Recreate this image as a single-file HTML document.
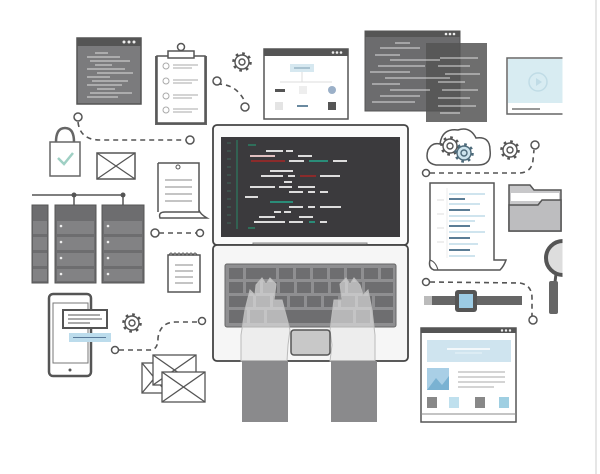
<!DOCTYPE html>
<html><head><meta charset="utf-8"><style>html,body{margin:0;padding:0;background:#fff}svg{display:block}</style></head><body>
<svg width="600" height="474" viewBox="0 0 600 474" xmlns="http://www.w3.org/2000/svg">
<defs>
<g id="gear"><circle r="7" fill="#fff" stroke="#555" stroke-width="1.4"/><circle r="8.3" fill="none" stroke="#555" stroke-width="3" stroke-dasharray="2.6 3.9"/><circle r="3" fill="none" stroke="#555" stroke-width="1.4"/></g>
</defs>
<rect width="600" height="474" fill="#fff"/>
<g fill="none" stroke="#555" stroke-width="1.6" stroke-dasharray="5 4">
<path d="M217 84 Q232 84 240 94 Q245 100 245 104"/>
<path d="M78 122 Q80 140 100 140 L186 140"/>
<path d="M159 233 L196 233"/>
<path d="M119 350 L150 350 Q158 350 158 338 Q160 322 176 322 L198 322"/>
<path d="M430 173 L520 173 Q532 172 533 160 L534 150"/>
<path d="M430 282 L520 283 Q532 285 532 298 L532 316"/>
</g>
<g fill="#fff" stroke="#555" stroke-width="1.5">
<circle cx="217" cy="81" r="4"/><circle cx="245" cy="107" r="4"/>
<circle cx="78" cy="117" r="4"/><circle cx="190" cy="140" r="4"/>
<circle cx="155" cy="233" r="4"/><circle cx="200" cy="233" r="3.5"/>
<circle cx="115" cy="350" r="3.5"/><circle cx="202" cy="321" r="3.5"/>
<circle cx="426" cy="173" r="3.5"/><circle cx="535" cy="145" r="4"/>
<circle cx="426" cy="282" r="3.5"/><circle cx="533" cy="320" r="4"/>
</g>
<rect x="77" y="38" width="64" height="66" fill="#7b7b7d" stroke="#555" stroke-width="1.5"/>
<rect x="77" y="38" width="64" height="8" fill="#555"/>
<g fill="#eee"><circle cx="124" cy="42" r="1.5"/><circle cx="129" cy="42" r="1.5"/><circle cx="134" cy="42" r="1.5"/></g>
<g stroke="#ddd" stroke-width="1"><line x1="95" y1="53" x2="108" y2="53"/><line x1="87" y1="57" x2="120" y2="57"/><line x1="90" y1="61" x2="130" y2="61"/><line x1="95" y1="65" x2="112" y2="65"/><line x1="87" y1="69" x2="125" y2="69"/><line x1="97" y1="73" x2="133" y2="73"/><line x1="87" y1="77" x2="110" y2="77"/><line x1="92" y1="81" x2="128" y2="81"/><line x1="87" y1="85" x2="122" y2="85"/><line x1="97" y1="89" x2="115" y2="89"/><line x1="90" y1="93" x2="132" y2="93"/><line x1="87" y1="97" x2="118" y2="97"/></g>
<rect x="155" y="56" width="52" height="69" fill="#666"/>
<rect x="157" y="56" width="48" height="67" fill="#fff" stroke="#555" stroke-width="1.5"/>
<rect x="168" y="51" width="26" height="7" fill="#fff" stroke="#555" stroke-width="1.5"/>
<circle cx="181" cy="47" r="3.5" fill="#fff" stroke="#555" stroke-width="1.5"/>
<g fill="none" stroke="#aaa" stroke-width="1"><circle cx="166" cy="66" r="3"/><circle cx="166" cy="81" r="3"/><circle cx="166" cy="96" r="3"/><circle cx="166" cy="110" r="3"/></g>
<g stroke="#bbb" stroke-width="1.2"><line x1="173" y1="65" x2="198" y2="65"/><line x1="173" y1="68" x2="192" y2="68"/><line x1="173" y1="80" x2="198" y2="80"/><line x1="173" y1="83" x2="192" y2="83"/><line x1="173" y1="95" x2="198" y2="95"/><line x1="173" y1="98" x2="192" y2="98"/><line x1="173" y1="109" x2="198" y2="109"/><line x1="173" y1="112" x2="192" y2="112"/></g>
<use href="#gear" x="242" y="62"/>
<rect x="264" y="49" width="84" height="70" fill="#fff" stroke="#555" stroke-width="1.5"/>
<rect x="264" y="49" width="84" height="7" fill="#555"/>
<g fill="#eee"><circle cx="333" cy="52.5" r="1.3"/><circle cx="337" cy="52.5" r="1.3"/><circle cx="341" cy="52.5" r="1.3"/></g>
<rect x="290" y="64" width="24" height="8" fill="#d6e8f0"/><line x1="294" y1="68" x2="310" y2="68" stroke="#7a9cb0"/>
<path d="M302 72 V82 M280 82 H332" stroke="#ddd" fill="none"/>
<rect x="275" y="89" width="10" height="3" fill="#555"/><rect x="299" y="86" width="8" height="8" fill="#eee"/><circle cx="332" cy="90" r="4" fill="#9bb0c8"/>
<rect x="275" y="102" width="8" height="8" fill="#e4e4e4"/><rect x="297" y="105" width="11" height="2" fill="#6a8aa0"/><rect x="328" y="102" width="8" height="8" fill="#555"/>
<rect x="365" y="31" width="95" height="80" fill="#6c6c6e" stroke="#555"/>
<rect x="365" y="31" width="95" height="6" fill="#555"/>
<g fill="#eee"><circle cx="446" cy="34" r="1.3"/><circle cx="450" cy="34" r="1.3"/><circle cx="454" cy="34" r="1.3"/></g>
<rect x="426" y="43" width="61" height="79" fill="#555" fill-opacity="0.85"/>
<g stroke="#ddd" stroke-width="1"><line x1="395" y1="43" x2="410" y2="43"/><line x1="380" y1="48" x2="420" y2="48"/><line x1="375" y1="55" x2="400" y2="55"/><line x1="390" y1="60" x2="440" y2="60"/><line x1="378" y1="66" x2="425" y2="66"/><line x1="370" y1="72" x2="410" y2="72"/><line x1="385" y1="78" x2="450" y2="78"/><line x1="372" y1="84" x2="400" y2="84"/><line x1="390" y1="90" x2="430" y2="90"/><line x1="380" y1="96" x2="420" y2="96"/><line x1="372" y1="102" x2="415" y2="102"/><line x1="440" y1="58" x2="478" y2="58"/><line x1="438" y1="66" x2="470" y2="66"/><line x1="445" y1="74" x2="480" y2="74"/><line x1="438" y1="82" x2="465" y2="82"/><line x1="442" y1="90" x2="478" y2="90"/><line x1="438" y1="98" x2="470" y2="98"/><line x1="438" y1="106" x2="476" y2="106"/><line x1="440" y1="113" x2="460" y2="113"/></g>
<rect x="507" y="58" width="60" height="56" fill="#fff" stroke="#666" stroke-width="1.5"/>
<rect x="508" y="59" width="59" height="44" fill="#d8ecf2"/>
<circle cx="538" cy="82" r="9" fill="none" stroke="#c0dce6" stroke-width="1.5"/>
<path d="M536 78 L542 82 L536 86 Z" fill="#c0dce6"/>
<line x1="512" y1="109" x2="540" y2="109" stroke="#777" stroke-width="1.5"/>
<rect x="213" y="125" width="195" height="120" rx="4" fill="#fafafa" stroke="#444" stroke-width="1.8"/>
<rect x="221" y="137" width="179" height="100" fill="#3b3a3d"/>
<line x1="237" y1="140" x2="237" y2="229" stroke="#2f6e5a" stroke-width="1.5"/>
<g stroke="#3f5e55" stroke-width="1.2"><line x1="227" y1="143" x2="231" y2="143"/><line x1="227" y1="151" x2="231" y2="151"/><line x1="227" y1="159" x2="231" y2="159"/><line x1="227" y1="167" x2="231" y2="167"/><line x1="227" y1="175" x2="231" y2="175"/><line x1="227" y1="183" x2="231" y2="183"/><line x1="227" y1="191" x2="231" y2="191"/><line x1="227" y1="199" x2="231" y2="199"/><line x1="227" y1="207" x2="231" y2="207"/><line x1="227" y1="215" x2="231" y2="215"/><line x1="227" y1="223" x2="231" y2="223"/></g>
<g stroke-width="2">
<line x1="248" y1="145" x2="256" y2="145" stroke="#2f6e5a"/>
<line x1="266" y1="151" x2="283" y2="151" stroke="#ddd"/><line x1="286" y1="151" x2="293" y2="151" stroke="#ddd"/>
<line x1="250" y1="156" x2="275" y2="156" stroke="#e0c0c0"/><line x1="298" y1="156" x2="312" y2="156" stroke="#ddd"/>
<line x1="251" y1="161" x2="285" y2="161" stroke="#8b2b2b"/><line x1="289" y1="161" x2="304" y2="161" stroke="#ddd"/><line x1="309" y1="161" x2="328" y2="161" stroke="#2a8c78"/><line x1="333" y1="161" x2="347" y2="161" stroke="#ddd"/>
<line x1="270" y1="171" x2="293" y2="171" stroke="#ddd"/>
<line x1="261" y1="176" x2="283" y2="176" stroke="#ddd"/><line x1="288" y1="176" x2="295" y2="176" stroke="#ddd"/><line x1="300" y1="176" x2="316" y2="176" stroke="#8b2b2b"/><line x1="320" y1="176" x2="340" y2="176" stroke="#ddd"/>
<line x1="284" y1="182" x2="292" y2="182" stroke="#ddd"/>
<line x1="250" y1="187" x2="275" y2="187" stroke="#ddd"/><line x1="279" y1="187" x2="292" y2="187" stroke="#ddd"/><line x1="298" y1="187" x2="315" y2="187" stroke="#ddd"/>
<line x1="289" y1="192" x2="303" y2="192" stroke="#ddd"/><line x1="308" y1="192" x2="315" y2="192" stroke="#ddd"/><line x1="320" y1="192" x2="328" y2="192" stroke="#ddd"/>
<line x1="245" y1="197" x2="258" y2="197" stroke="#ddd"/>
<line x1="270" y1="202" x2="293" y2="202" stroke="#2a8c78"/>
<line x1="289" y1="207" x2="303" y2="207" stroke="#ddd"/><line x1="308" y1="207" x2="315" y2="207" stroke="#ddd"/><line x1="320" y1="207" x2="341" y2="207" stroke="#ddd"/>
<line x1="274" y1="212" x2="281" y2="212" stroke="#ddd"/><line x1="284" y1="212" x2="291" y2="212" stroke="#ddd"/>
<line x1="259" y1="217" x2="275" y2="217" stroke="#ddd"/><line x1="299" y1="217" x2="313" y2="217" stroke="#ddd"/>
<line x1="254" y1="222" x2="285" y2="222" stroke="#ddd"/><line x1="289" y1="222" x2="303" y2="222" stroke="#ddd"/><line x1="309" y1="222" x2="315" y2="222" stroke="#2a8c78"/><line x1="320" y1="222" x2="327" y2="222" stroke="#ddd"/>
<line x1="248" y1="228" x2="255" y2="228" stroke="#2f6e5a"/>
</g>
<rect x="253" y="243" width="114" height="6" fill="#ccc" stroke="#888"/>
<rect x="213" y="245" width="195" height="116" rx="4" fill="#f6f6f6" stroke="#444" stroke-width="1.8"/>
<rect x="225" y="264" width="171" height="63" rx="2" fill="#8f8f91" stroke="#666"/>
<g fill="#6e6e70">
<rect x="229" y="268" width="14" height="11"/><rect x="246" y="268" width="30" height="11"/><rect x="279" y="268" width="14" height="11"/><rect x="296" y="268" width="14" height="11"/><rect x="313" y="268" width="14" height="11"/><rect x="330" y="268" width="14" height="11"/><rect x="347" y="268" width="14" height="11"/><rect x="364" y="268" width="14" height="11"/><rect x="381" y="268" width="12" height="11"/>
<rect x="229" y="282" width="14" height="11"/><rect x="246" y="282" width="14" height="11"/><rect x="263" y="282" width="14" height="11"/><rect x="280" y="282" width="14" height="11"/><rect x="297" y="282" width="14" height="11"/><rect x="314" y="282" width="14" height="11"/><rect x="331" y="282" width="14" height="11"/><rect x="348" y="282" width="14" height="11"/><rect x="365" y="282" width="28" height="11"/>
<rect x="229" y="296" width="24" height="11"/><rect x="256" y="296" width="14" height="11"/><rect x="273" y="296" width="14" height="11"/><rect x="290" y="296" width="14" height="11"/><rect x="307" y="296" width="14" height="11"/><rect x="324" y="296" width="14" height="11"/><rect x="341" y="296" width="14" height="11"/><rect x="358" y="296" width="14" height="11"/><rect x="375" y="296" width="18" height="11"/>
<rect x="229" y="310" width="18" height="13"/><rect x="250" y="310" width="14" height="13"/><rect x="267" y="310" width="86" height="13"/><rect x="356" y="310" width="14" height="13"/><rect x="373" y="310" width="20" height="13"/>
</g>
<g fill="#e8e8e8" fill-opacity="0.6" stroke="#bbb" stroke-width="1">
<path d="M241 361 L241 335 L245 310 L250 290 L255 295 L256 285 L262 278 L266 284 L270 278 L276 284 L274 300 L282 300 L290 330 L288 345 L287 361 Z"/>
<path d="M375 361 L375 335 L372 310 L368 290 L363 295 L360 285 L354 278 L350 284 L346 278 L340 284 L342 300 L334 300 L330 330 L332 345 L330 361 Z"/>
</g>
<rect x="291" y="330" width="39" height="25" rx="3" fill="#c8c8c8" stroke="#555" stroke-width="1.5"/>
<rect x="242" y="361" width="46" height="61" fill="#8a8a8c"/>
<rect x="331" y="361" width="46" height="61" fill="#8a8a8c"/>
<path d="M56 142 Q56 128 65 128 Q74 128 74 142" fill="none" stroke="#666" stroke-width="2.5"/>
<rect x="50" y="142" width="30" height="34" fill="#fff" stroke="#666" stroke-width="1.5"/>
<path d="M58 158 L64 164 L73 153" fill="none" stroke="#9fd0c4" stroke-width="2.5"/>
<rect x="97" y="153" width="38" height="26" fill="#fff" stroke="#555" stroke-width="1.5"/>
<path d="M97 153 L135 179 M135 153 L97 179" stroke="#555" stroke-width="1.2"/>
<path d="M158 163 H199 V212 H165 Q158 212 160 218 H207 Q200 214 199 210" fill="#fff" stroke="#555" stroke-width="1.5"/>
<path d="M158 163 V212" stroke="#555" stroke-width="1.5"/>
<circle cx="178" cy="167" r="2" fill="#fff" stroke="#555"/>
<g stroke="#888"><line x1="165" y1="180" x2="192" y2="180"/><line x1="165" y1="187" x2="192" y2="187"/><line x1="165" y1="194" x2="192" y2="194"/><line x1="165" y1="201" x2="192" y2="201"/></g>
<line x1="32" y1="195" x2="123" y2="195" stroke="#555" stroke-width="1.5"/>
<circle cx="74" cy="195" r="2.5" fill="#555"/><circle cx="123" cy="195" r="2.5" fill="#555"/>
<line x1="74" y1="195" x2="74" y2="205" stroke="#555" stroke-width="1.5"/><line x1="123" y1="195" x2="123" y2="205" stroke="#555" stroke-width="1.5"/>
<g fill="#6d6d6f" stroke="#555"><rect x="32" y="205" width="16" height="78"/><rect x="55" y="205" width="41" height="78"/><rect x="102" y="205" width="42" height="78"/></g>
<g fill="#828284"><rect x="57" y="221" width="37" height="13"/><rect x="57" y="237" width="37" height="13"/><rect x="57" y="253" width="37" height="13"/><rect x="57" y="269" width="37" height="12"/><rect x="104" y="221" width="38" height="13"/><rect x="104" y="237" width="38" height="13"/><rect x="104" y="253" width="38" height="13"/><rect x="104" y="269" width="38" height="12"/><rect x="33" y="221" width="14" height="13"/><rect x="33" y="237" width="14" height="13"/><rect x="33" y="253" width="14" height="13"/><rect x="33" y="269" width="14" height="12"/></g>
<g fill="#eee"><circle cx="61" cy="226" r="1.3"/><circle cx="61" cy="242" r="1.3"/><circle cx="61" cy="258" r="1.3"/><circle cx="61" cy="274" r="1.3"/><circle cx="108" cy="226" r="1.3"/><circle cx="108" cy="242" r="1.3"/><circle cx="108" cy="258" r="1.3"/><circle cx="108" cy="274" r="1.3"/></g>
<rect x="168" y="255" width="32" height="37" fill="#fff" stroke="#555" stroke-width="1.5"/>
<path d="M169 255 q2 -4 4 0 q2 -4 4 0 q2 -4 4 0 q2 -4 4 0 q2 -4 4 0 q2 -4 4 0 q2 -4 4 0" fill="none" stroke="#555"/>
<g stroke="#888"><line x1="175" y1="265" x2="193" y2="265"/><line x1="175" y1="271" x2="193" y2="271"/><line x1="175" y1="277" x2="193" y2="277"/><line x1="175" y1="283" x2="193" y2="283"/></g>
<rect x="49" y="294" width="42" height="82" rx="4" fill="#fff" stroke="#555" stroke-width="2.5"/>
<rect x="53" y="303" width="35" height="60" fill="#fff" stroke="#777"/>
<circle cx="70" cy="370" r="1.5" fill="#555"/>
<rect x="63" y="310" width="44" height="18" fill="#fff" stroke="#555" stroke-width="2"/>
<g stroke="#555"><line x1="68" y1="315" x2="100" y2="315"/><line x1="68" y1="319" x2="102" y2="319"/><line x1="68" y1="323" x2="90" y2="323"/></g>
<rect x="69" y="333" width="42" height="9" fill="#bcdcec"/><line x1="73" y1="337.5" x2="106" y2="337.5" stroke="#5a7a9a"/>
<use href="#gear" x="132" y="323"/>
<g fill="#fff" stroke="#555" stroke-width="1.3">
<rect x="142" y="363" width="25" height="30"/><path d="M142 363 L167 393 M167 363 L142 393"/>
<rect x="153" y="355" width="43" height="30"/><path d="M153 355 L196 385 M196 355 L153 385"/>
<rect x="162" y="372" width="43" height="30"/><path d="M162 372 L205 402 M205 372 L162 402"/>
</g>
<path d="M436 165 Q424 163 428 150 Q432 142 440 144 Q442 128 458 130 Q470 126 476 138 Q490 136 490 150 Q492 165 478 165 Z" fill="#fff" stroke="#555" stroke-width="1.5"/>
<use href="#gear" x="450" y="146"/>
<g transform="translate(464 153)"><circle r="7" fill="#cde4ee" stroke="#4d6a7a" stroke-width="1.4"/><circle r="8.3" fill="none" stroke="#4d6a7a" stroke-width="3" stroke-dasharray="2.6 3.9"/><circle r="3" fill="none" stroke="#4d6a7a" stroke-width="1.4"/></g>
<use href="#gear" x="510" y="150"/>
<path d="M430 183 H494 V260 H506 Q504 266 500 270 H434 Q428 268 430 260 Z" fill="#fff" stroke="#555" stroke-width="1.5"/>
<path d="M430 260 Q436 262 438 270" fill="none" stroke="#555"/>
<g stroke-width="2"><line x1="449" y1="194" x2="485" y2="194" stroke="#cfe4ee"/><line x1="449" y1="199" x2="465" y2="199" stroke="#5b7d96"/><line x1="449" y1="204" x2="480" y2="204" stroke="#cfe4ee"/><line x1="449" y1="210" x2="470" y2="210" stroke="#5b7d96"/><line x1="449" y1="216" x2="485" y2="216" stroke="#cfe4ee"/><line x1="449" y1="221" x2="475" y2="221" stroke="#cfe4ee"/><line x1="449" y1="226" x2="470" y2="226" stroke="#5b7d96"/><line x1="449" y1="232" x2="485" y2="232" stroke="#cfe4ee"/><line x1="449" y1="238" x2="470" y2="238" stroke="#5b7d96"/><line x1="449" y1="244" x2="478" y2="244" stroke="#cfe4ee"/><line x1="449" y1="250" x2="470" y2="250" stroke="#5b7d96"/><line x1="449" y1="256" x2="475" y2="256" stroke="#cfe4ee"/></g>
<g stroke="#ddd"><line x1="437" y1="200" x2="444" y2="200"/><line x1="437" y1="214" x2="444" y2="214"/><line x1="437" y1="228" x2="444" y2="228"/><line x1="437" y1="242" x2="444" y2="242"/></g>
<line x1="447" y1="188" x2="447" y2="258" stroke="#eee"/>
<path d="M509 185 H530 L534 190 H561 V231 H509 Z" fill="#c8c8ca" stroke="#555" stroke-width="1.5"/>
<rect x="511" y="193" width="48" height="8" fill="#fff"/>
<path d="M509 205 H538 L542 200 H561 V231 H509 Z" fill="#bdbdbf" stroke="#555" stroke-width="1.5"/>
<circle cx="563" cy="258" r="17" fill="#ddd" stroke="#555" stroke-width="4"/>
<line x1="556" y1="274" x2="555" y2="282" stroke="#555" stroke-width="3"/>
<rect x="549" y="281" width="9" height="33" rx="2" fill="#666"/>
<rect x="562.5" y="0" width="37.5" height="474" fill="#fff"/>
<line x1="596" y1="0" x2="596" y2="474" stroke="#ddd" stroke-width="1.5"/>
<rect x="424" y="296" width="98" height="9" fill="#666"/>
<rect x="424" y="296" width="8" height="9" fill="#bbb"/>
<rect x="455" y="290" width="22" height="22" rx="3" fill="#555"/>
<rect x="459" y="294" width="14" height="14" fill="#9ccbe4"/>
<rect x="421" y="328" width="95" height="94" fill="#fff" stroke="#555" stroke-width="1.5"/>
<rect x="421" y="328" width="95" height="5" fill="#555"/>
<g fill="#eee"><circle cx="502" cy="330.5" r="1.2"/><circle cx="506" cy="330.5" r="1.2"/><circle cx="510" cy="330.5" r="1.2"/></g>
<rect x="427" y="340" width="84" height="22" fill="#cfe4ef"/>
<line x1="447" y1="349" x2="490" y2="349" stroke="#fff" stroke-width="1.5"/><line x1="455" y1="353" x2="482" y2="353" stroke="#eaf4f8"/>
<rect x="427" y="368" width="22" height="22" fill="#a9cfe6"/><path d="M427 390 L436 378 L442 385 L449 376 V390 Z" fill="#7ab2d2"/>
<g stroke="#aaa"><line x1="458" y1="372" x2="505" y2="372"/><line x1="458" y1="377" x2="505" y2="377"/><line x1="458" y1="382" x2="505" y2="382"/><line x1="458" y1="387" x2="494" y2="387"/></g>
<rect x="427" y="397" width="10" height="11" fill="#888"/><rect x="449" y="397" width="10" height="11" fill="#bfe0ee"/><rect x="475" y="397" width="10" height="11" fill="#888"/><rect x="499" y="397" width="10" height="11" fill="#9fcfe2"/>
<line x1="421" y1="414" x2="516" y2="414" stroke="#888"/>
</svg>
</body></html>
